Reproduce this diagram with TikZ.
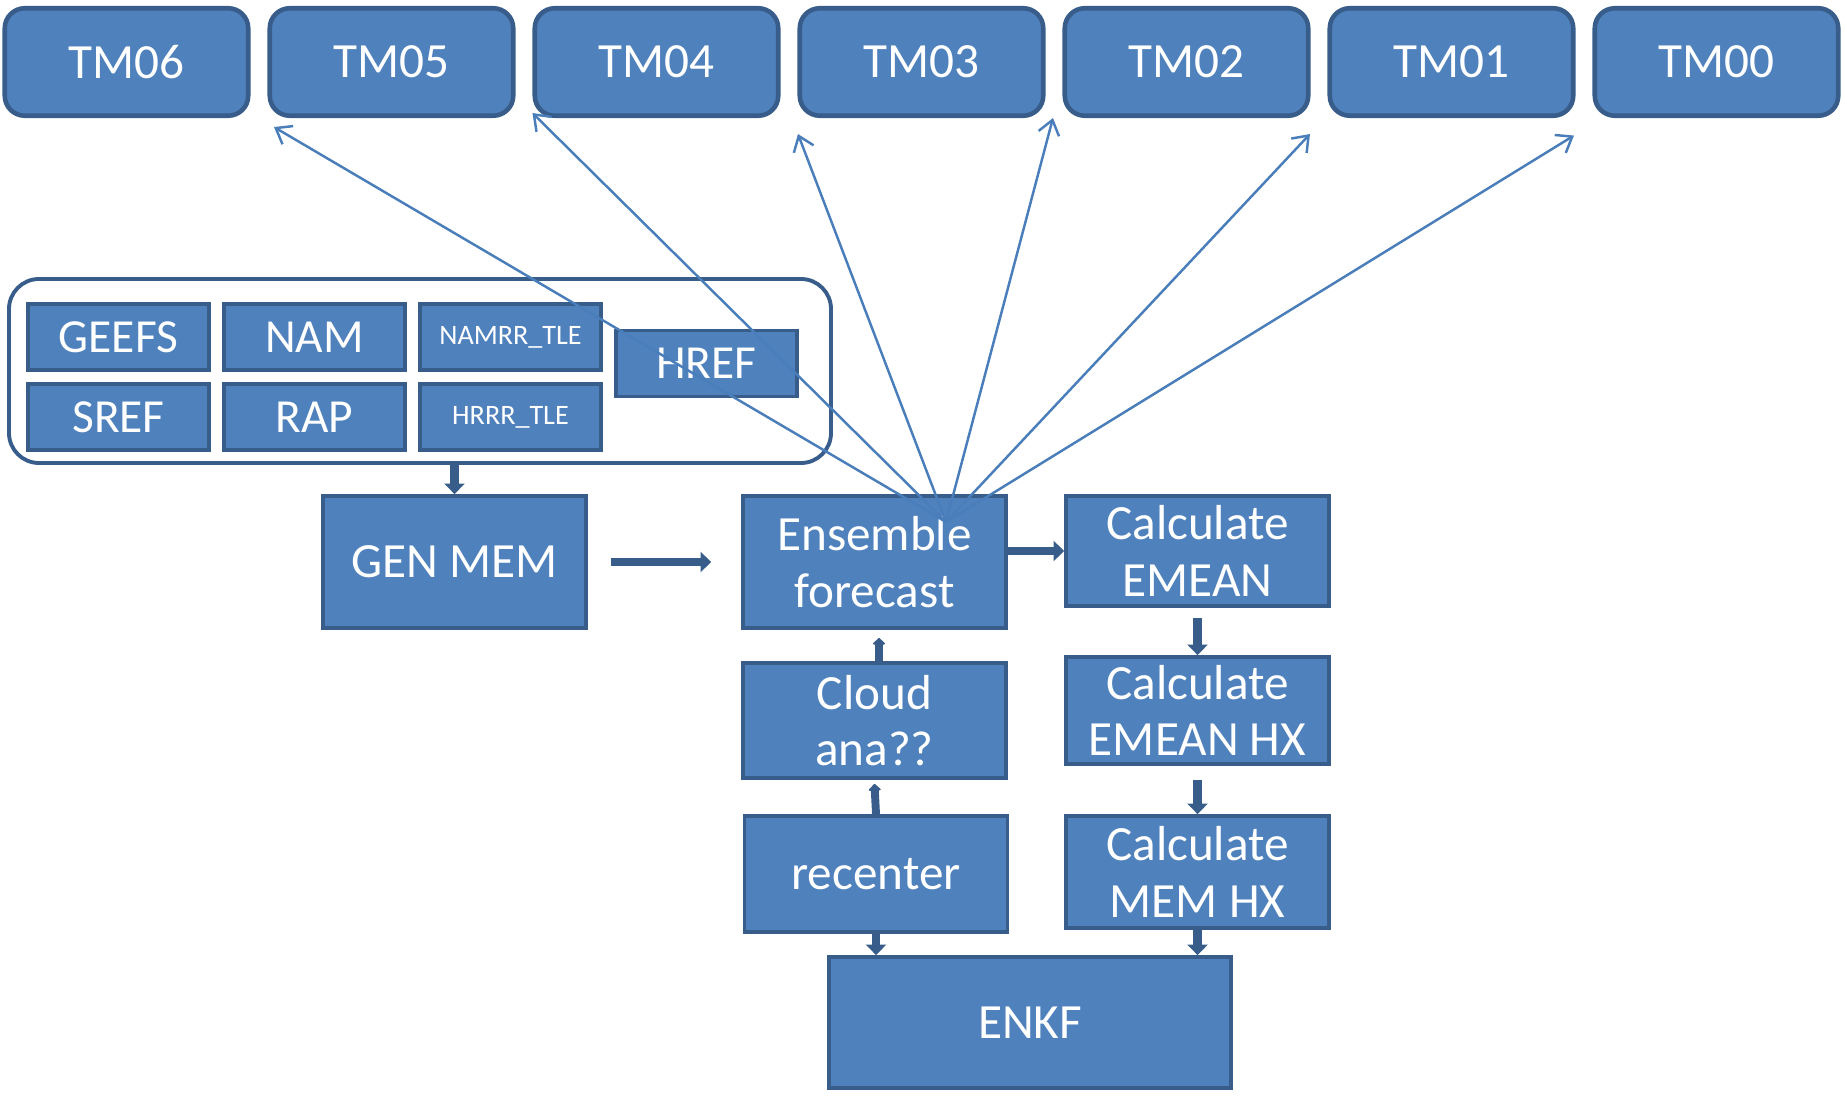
\documentclass[tikz,border=0pt]{standalone}
\usepackage{fontspec}
\setmainfont{Carlito}
\usetikzlibrary{arrows.meta,calc}

\definecolor{boxfill}{HTML}{4F81BD}
\definecolor{boxline}{HTML}{385D8A}
\definecolor{linkline}{HTML}{4A7EBB}

\begin{document}
\begin{tikzpicture}[
    tmbox/.style={draw=boxline, fill=boxfill, line width=2.6pt, rounded corners=0.4cm,
        minimum width=4.87cm, minimum height=2.15cm, text=white,
        font=\fontsize{28}{32}\selectfont},
    srcbox/.style={draw=boxline, fill=boxfill, line width=2.2pt,
        minimum width=3.62cm, minimum height=1.32cm, text=white,
        font=\fontsize{27}{30}\selectfont},
    stepbox/.style={draw=boxline, fill=boxfill, line width=2.2pt,
        minimum width=5.26cm, text=white, align=center,
        font=\fontsize{28}{32}\selectfont},
    flow/.style={draw=boxline, line width=5pt, -{Triangle[length=6pt,width=11.5pt]}},
    flowup/.style={draw=boxline, line width=4.5pt, line cap=round,
        -{Triangle[length=4pt,width=8pt,round]}},
    fan/.style={draw=linkline, line width=1.4pt, -{Straight Barb[length=8pt,width=12pt]}},
]

    \useasboundingbox (0,0) rectangle (36.9,21.9);

    % Time levels
    \node[tmbox] (tm06) at (2.53,20.66)  {TM06};
    \node[tmbox] (tm05) at (7.83,20.66)  {TM05};
    \node[tmbox] (tm04) at (13.13,20.66) {TM04};
    \node[tmbox] (tm03) at (18.43,20.66) {TM03};
    \node[tmbox] (tm02) at (23.73,20.66) {TM02};
    \node[tmbox] (tm01) at (29.03,20.66) {TM01};
    \node[tmbox] (tm00) at (34.33,20.66) {TM00};

    % Input models
    \node[draw=boxline, line width=2.2pt, rounded corners=0.6cm,
          minimum width=16.44cm, minimum height=3.68cm] (group) at (8.4,14.48) {};
    \node[srcbox] (geefs) at (2.37,15.16)  {GEEFS};
    \node[srcbox] (nam)   at (6.29,15.16)  {NAM};
    \node[srcbox, font=\fontsize{16}{19}\selectfont] (namrr) at (10.21,15.16) {NAMRR\_TLE};
    \node[srcbox] (sref)  at (2.37,13.56)  {SREF};
    \node[srcbox] (rap)   at (6.29,13.56)  {RAP};
    \node[srcbox, font=\fontsize{16}{19}\selectfont] (hrrr) at (10.21,13.56) {HRRR\_TLE};
    \node[srcbox] (href)  at (14.13,14.63) {HREF};

    % Cycle steps
    \node[stepbox, minimum height=2.64cm] (genmem)   at (9.09,10.66)  {GEN MEM};
    \node[stepbox, minimum height=2.64cm] (ens)      at (17.49,10.66) {Ensemble\\forecast};
    \node[stepbox, minimum height=2.2cm]  (emean)    at (23.95,10.88) {Calculate\\EMEAN};
    \node[stepbox, minimum height=2.14cm] (emeanhx)  at (23.95,7.69)  {Calculate\\EMEAN HX};
    \node[stepbox, minimum height=2.24cm] (memhx)    at (23.95,4.46)  {Calculate\\MEM HX};
    \node[stepbox, minimum height=2.3cm]  (cloud)    at (17.49,7.49)  {Cloud\\ana??};
    \node[stepbox, minimum height=2.32cm] (recenter) at (17.52,4.42)  {recenter};
    \node[stepbox, minimum width=8.04cm, minimum height=2.62cm] (enkf) at (20.6,1.45) {ENKF};

    % Flow between steps
    \draw[flow] (group.south -| genmem.north) -- (genmem.north);
    \draw[flow] ($(genmem.east)+(0.46,0)$) -- ($(ens.west)+(-0.6,0)$);
    \draw[flow] (ens.east |- emean.west) -- (emean.west);
    \draw[flow] ($(emean.south)+(0,-0.2)$) -- (emeanhx.north);
    \draw[flow] ($(emeanhx.south)+(0,-0.28)$) -- (memhx.north);
    \draw[flowup] ($(cloud.north)+(0.09,0)$) -- ($(ens.south)+(0.09,-0.16)$);
    \draw[flowup] (recenter.north) -- ($(cloud.south)+(0,-0.08)$);
    \draw[flow] (recenter.south) -- (recenter.south |- enkf.north);
    \draw[flow] (memhx.south) -- (memhx.south |- enkf.north);

    % Forecast output to each time level
    \coordinate (fan) at ($(ens)+(1.43,0.8)$);
    \coordinate (to05) at ($(tm05.south west)+(0.13,-0.18)$);
    \coordinate (to04) at ($(tm04.south west)+(0,0.1)$);
    \coordinate (to03) at ($(tm03.south west)+(0.01,-0.32)$);
    \coordinate (to02) at ($(tm02.south west)+(-0.19,0)$);
    \coordinate (to01) at ($(tm01.south west)+(-0.35,-0.32)$);
    \coordinate (to00) at ($(tm00.south west)+(-0.37,-0.35)$);
    \draw[fan] (fan) -- (to05);
    \draw[fan] (fan) -- (to04);
    \draw[fan] (fan) -- (to03);
    \draw[fan] (fan) -- (to02);
    \draw[fan] (fan) -- (to01);
    \draw[fan] (fan) -- (to00);

\end{tikzpicture}
\end{document}
